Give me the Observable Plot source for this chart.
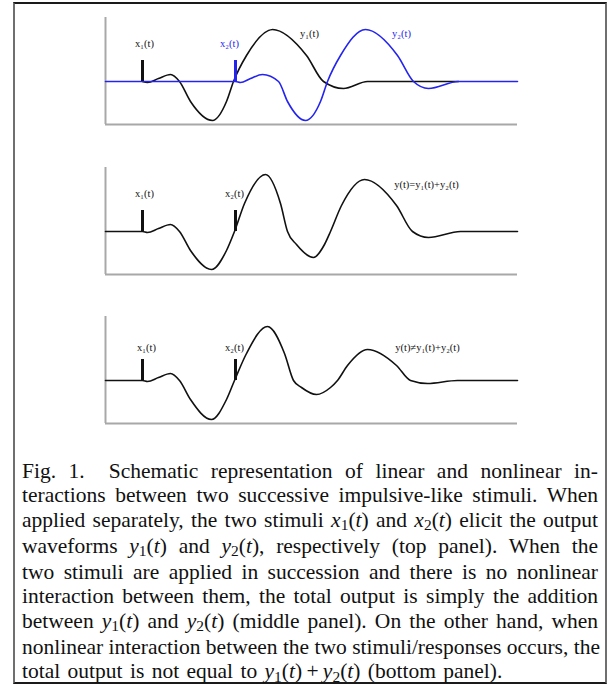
<!DOCTYPE html>
<html>
<head>
<meta charset="utf-8">
<script src="https://cdn.jsdelivr.net/npm/d3@7"></script>
<script src="https://cdn.jsdelivr.net/npm/@observablehq/plot@0.6"></script>
<style>
  html, body { margin: 0; padding: 0; background: #fff; }
  body { width: 610px; height: 686px; position: relative; overflow: hidden; }
  #frame { position: absolute; left: 13px; top: 2px; width: 594px; height: 682px; box-sizing: border-box;
           border: 2px solid #1a1a1a; border-left-color: #6f6f6f; border-right-color: #6f6f6f; }
  .panel { position: absolute; left: 0; }
  #cap { position: absolute; left: 22px; top: 459px; width: 576px; font-family: "Liberation Serif", "Times New Roman", serif;
         font-size: 21.5px; line-height: 24.3px; color: #111; }
  #cap .ln { white-space: nowrap; text-align: justify; text-align-last: justify; }
  #cap .last { white-space: nowrap; text-align: left; word-spacing: 2px; }
  #cap .s { font-size: 0.72em; position: relative; top: 0.22em; }
  #cap .gap { display: inline-block; width: 24px; }
</style>
</head>
<body>
<div id="frame"></div>
<div id="p0" class="panel" style="top:0px"></div>
<div id="p1" class="panel" style="top:150px"></div>
<div id="p2" class="panel" style="top:299px"></div>
<div id="cap">
  <div class="ln">Fig. 1.<span class="gap"></span>Schematic representation of linear and nonlinear in-</div>
  <div class="ln">teractions between two successive impulsive-like stimuli. When</div>
  <div class="ln">applied separately, the two stimuli <i>x</i><span class="s">1</span>(<i>t</i>) and <i>x</i><span class="s">2</span>(<i>t</i>) elicit the output</div>
  <div class="ln">waveforms <i>y</i><span class="s">1</span>(<i>t</i>) and <i>y</i><span class="s">2</span>(<i>t</i>), respectively (top panel). When the</div>
  <div class="ln">two stimuli are applied in succession and there is no nonlinear</div>
  <div class="ln">interaction between them, the total output is simply the addition</div>
  <div class="ln">between <i>y</i><span class="s">1</span>(<i>t</i>) and <i>y</i><span class="s">2</span>(<i>t</i>) (middle panel). On the other hand, when</div>
  <div class="ln">nonlinear interaction between the two stimuli/responses occurs, the</div>
  <div class="last">total output is not equal to <i>y</i><span class="s">1</span>(<i>t</i>)&thinsp;+&thinsp;<i>y</i><span class="s">2</span>(<i>t</i>) (bottom panel).</div>
</div>
<script>
// ---- Data (time in arbitrary units, amplitude in arbitrary units; baseline = 0) ----
const xDomain = [0, 412];
const yDomain = [-43, 64];

// impulses
const impulseT = [37, 130];
const impulseH = [21, 21];

// top panel: y1(t) response (black)
const y1T = [37, 42, 53, 65, 74, 85, 107, 121, 128, 141, 167, 201, 218, 238, 262, 353];
const y1V = [0, -1, 3, 7, 0, -20, -39, -20, 0, 26, 52, 26, 0, -7, 0, 0];

// top panel: y2(t) response (blue), including flat baseline
const y2T = [0, 130, 135, 145, 157, 173, 182, 200, 215, 222, 235, 260, 292, 308, 323, 353, 412];
const y2V = [0, 0, -1, 3, 7, 0, -20, -39, -20, 0, 26, 52, 26, 0, -7, 0, 0];

// middle panel: y(t) = y1(t) + y2(t)
const ySumT = [0, 37, 42, 53, 65, 74, 85, 106, 121, 129, 139, 160, 175, 182, 191, 208, 219, 225, 236, 259, 291, 307, 323, 355, 412];
const ySumV = [0, 0, -1, 3, 7, 0, -19, -38, -19, 0, 28, 57, 28, 0, -13, -26, -13, 0, 26, 52, 26, 0, -6, 0, 0];

// bottom panel: nonlinear y(t)
const yNlT = [0, 37, 42, 53, 65, 74, 85, 106, 121, 129, 141, 162, 179, 188, 196, 211, 225, 232, 242, 262, 291, 305, 322, 352, 412];
const yNlV = [0, 0, -1, 3, 7, 0, -19, -39, -19, 0, 27, 54, 27, 0, -7, -14, -7, 0, 15, 31, 15, 0, -3, 0, 0];

// labels
const topLabels = ["x\u2081(t)", "x\u2082(t)", "y\u2081(t)", "y\u2082(t)"];
const topLabelT = [39, 124, 204, 296];
const topLabelV = [38, 38, 48, 48];
const topLabelColor = ["black", "blue", "black", "blue"];

const midLabels = ["x\u2081(t)", "x\u2082(t)", "y(t)=y\u2081(t)+y\u2082(t)"];
const midLabelT = [39, 129, 321];
const midLabelV = [38, 38, 47];

const botLabels = ["x\u2081(t)", "x\u2082(t)", "y(t)\u2260y\u2081(t)+y\u2082(t)"];
const botLabelT = [41, 129, 322];
const botLabelV = [33, 33, 33];

const BLACK = "#111";
const BLUE = "#2424ee";
const AXIS = "#a8a8a8";

const zip = (ts, vs) => ts.map((t, i) => ({t, v: vs[i]}));
const labelRows = (txt, ts, vs, cs) => txt.map((s, i) => ({s, t: ts[i], v: vs[i], c: cs ? cs[i] : "black"}));

function panel(marks) {
  return Plot.plot({
    width: 610, height: 150,
    marginLeft: 105, marginRight: 93, marginTop: 17, marginBottom: 26,
    x: {domain: xDomain, axis: null},
    y: {domain: yDomain, axis: null},
    style: {background: "transparent", overflow: "visible"},
    marks: [
      Plot.ruleY([yDomain[0]], {stroke: AXIS, strokeWidth: 2}),
      Plot.ruleX([xDomain[0]], {stroke: AXIS, strokeWidth: 2}),
      ...marks
    ]
  });
}

function labelMark(rows) {
  return Plot.text(rows, {x: "t", y: "v", text: "s", fill: d => d.c === "blue" ? BLUE : BLACK,
    fontFamily: "Liberation Serif, serif", fontSize: 10.5});
}

// top
const impRows = impulseT.map((t, i) => ({t, h: impulseH[i], c: i === 0 ? "black" : "blue"}));
document.getElementById("p0").append(panel([
  Plot.line(zip(y1T, y1V), {x: "t", y: "v", stroke: BLACK, strokeWidth: 1.6, curve: "monotone-x"}),
  Plot.line(zip(y2T, y2V), {x: "t", y: "v", stroke: BLUE, strokeWidth: 1.6, curve: "monotone-x"}),
  Plot.ruleX(impRows, {x: "t", y1: 0, y2: "h", stroke: d => d.c === "blue" ? BLUE : BLACK, strokeWidth: 3}),
  labelMark(labelRows(topLabels, topLabelT, topLabelV, topLabelColor))
]));

// middle
document.getElementById("p1").append(panel([
  Plot.line(zip(ySumT, ySumV), {x: "t", y: "v", stroke: BLACK, strokeWidth: 1.6, curve: "monotone-x"}),
  Plot.ruleX(impRows, {x: "t", y1: 0, y2: "h", stroke: BLACK, strokeWidth: 3}),
  labelMark(labelRows(midLabels, midLabelT, midLabelV))
]));

// bottom
document.getElementById("p2").append(panel([
  Plot.line(zip(yNlT, yNlV), {x: "t", y: "v", stroke: BLACK, strokeWidth: 1.6, curve: "monotone-x"}),
  Plot.ruleX(impRows, {x: "t", y1: 0, y2: "h", stroke: BLACK, strokeWidth: 3}),
  labelMark(labelRows(botLabels, botLabelT, botLabelV))
]));
</script>
</body>
</html>
